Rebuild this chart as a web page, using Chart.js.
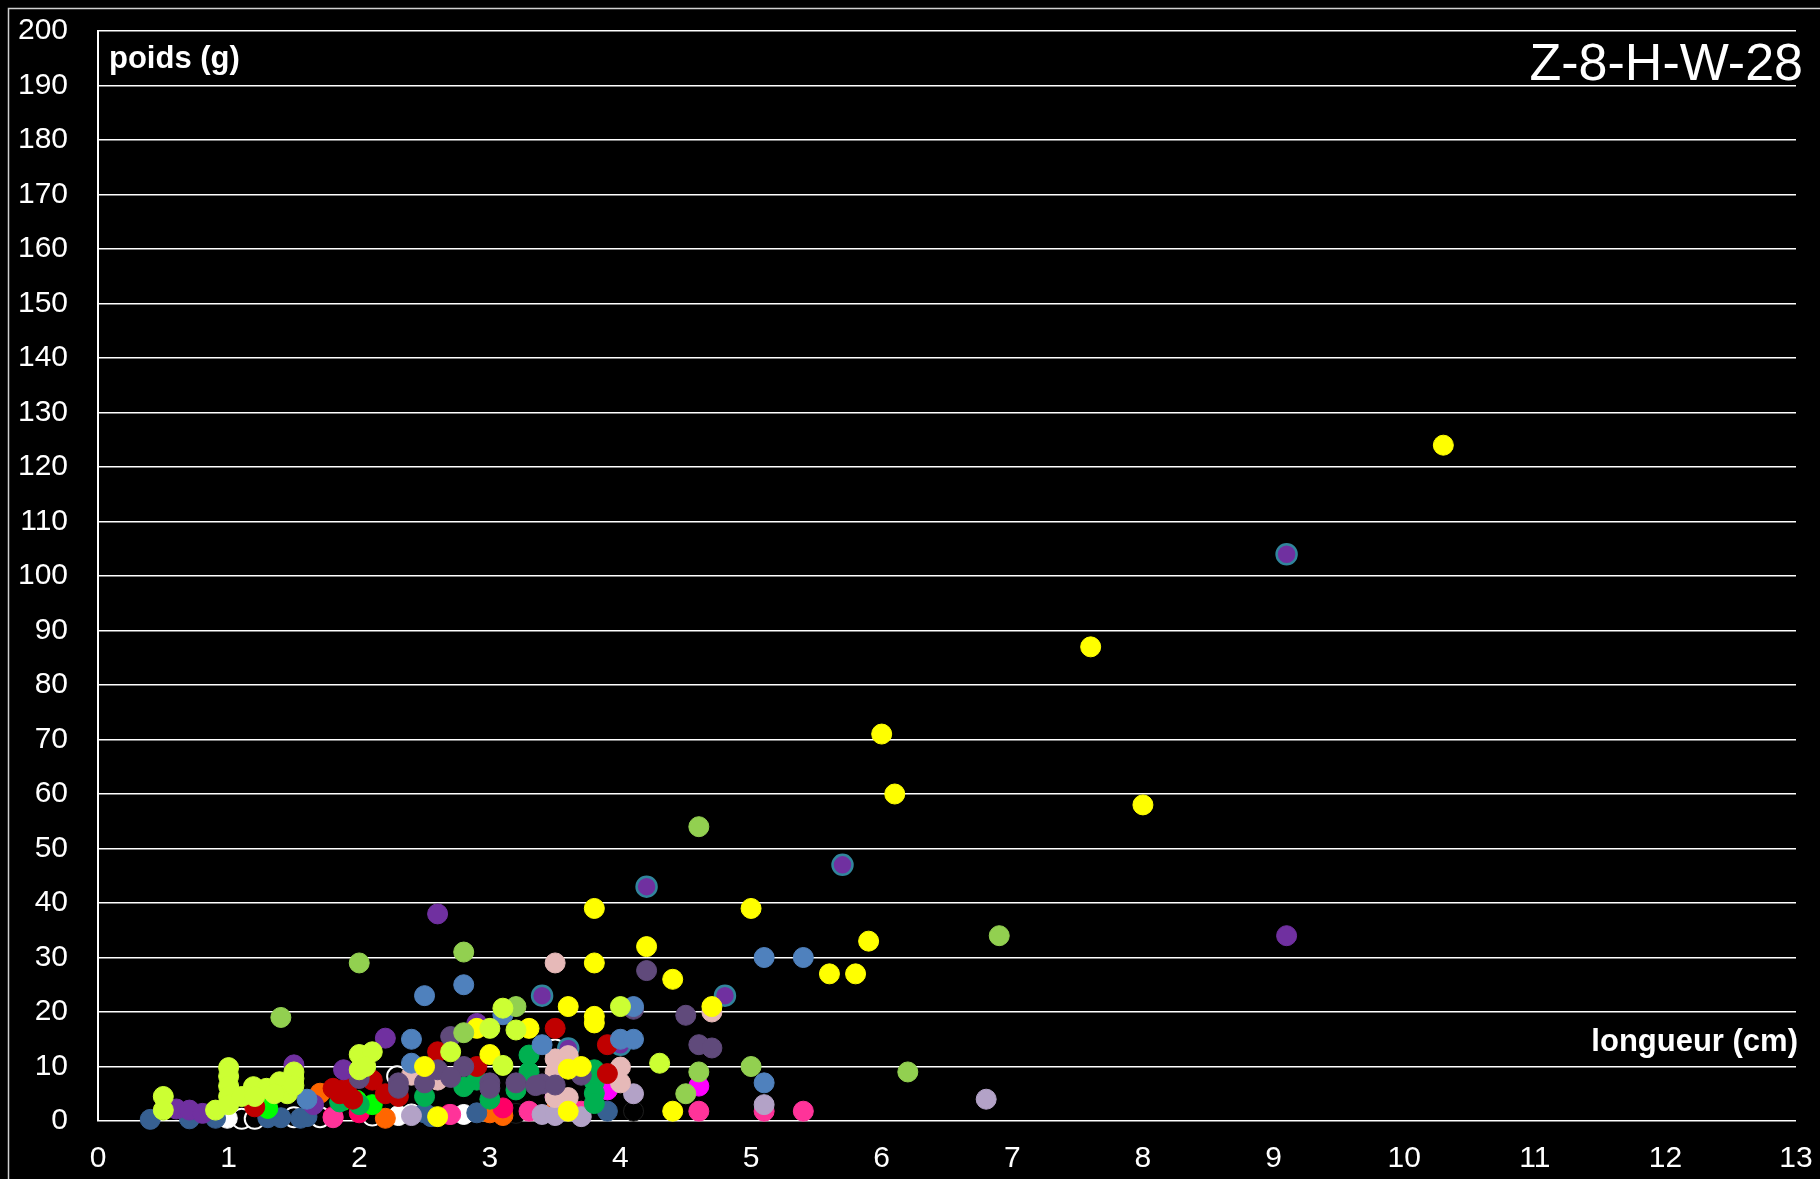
<!DOCTYPE html>
<html>
<head>
<meta charset="utf-8">
<script src="https://cdn.jsdelivr.net/npm/chart.js@4/dist/chart.umd.min.js"></script>
<style>
  html, body { margin: 0; padding: 0; background: #000; }
  #wrap { position: relative; width: 1820px; height: 1179px; background: #000; }
</style>
</head>
<body>
<div id="wrap"><canvas id="c" width="1820" height="1179"></canvas></div>
<script>
// ---- chart texts ----
const chartTitle = "Z-8-H-W-28";
const yAxisTitle = "poids (g)";
const xAxisTitle = "longueur (cm)";

// ---- axis ranges ----
const xMin = 0, xMax = 13, xStep = 1;
const yMin = 0, yMax = 200, yStep = 10;

// ---- series data (longueur cm, poids g) ----
const yellowX = [10.3, 7.6, 6.0, 6.1, 8.0, 3.8, 5.0, 5.9, 4.2, 3.8, 5.6, 5.8, 4.4, 3.6, 4.7, 3.8, 3.8, 2.9, 3.3, 3.0, 2.5, 3.7, 3.6, 4.4, 3.6, 2.6];
const yellowY = [124, 87, 71, 60, 58, 39, 39, 33, 32, 29, 27, 27, 26, 21, 21, 19.2, 18, 17, 17, 12.2, 10, 10, 9.5, 1.8, 1.8, 0.8];

const chartreuseX = [0.5, 0.5, 0.9, 1.0, 1.0, 1.0, 1.0, 1.0, 1.1, 1.19, 1.29, 1.39, 1.5, 1.5, 1.45, 1.2, 1.35, 2.0, 2.1, 2.0, 2.05, 2.7, 3.0, 3.1, 3.2, 3.1, 4.0, 4.3, 1.5];
const chartreuseY = [4.5, 2.0, 2.0, 9.8, 8.2, 6.4, 4.5, 3.0, 4.5, 6.3, 6.0, 7.2, 7.8, 9.0, 5.0, 4.5, 5.0, 12.2, 12.7, 9.4, 10, 12.7, 17, 20.7, 16.7, 10.2, 21, 10.6, 6.5];

const lightGreenX = [4.6, 6.9, 2.8, 2.0, 1.4, 3.2, 2.8, 4.6, 5.0, 6.2, 4.5];
const lightGreenY = [54, 34, 31, 29, 19, 21, 16.2, 9, 10, 9, 5];

const steelBlueX = [5.1, 5.4, 2.8, 2.5, 2.4, 4.0, 4.1, 4.1, 3.1, 5.1, 2.4, 3.4, 1.6];
const steelBlueY = [30, 30, 25, 23, 15, 15, 15, 21, 19.5, 7, 10.6, 14, 4];

const purpleX = [2.6, 9.1, 2.2, 2.9, 1.5, 1.88, 0.6, 0.7, 0.8, 1.65];
const purpleY = [38, 34, 15.2, 17.9, 10.3, 9.4, 2.2, 2.0, 1.4, 3];

const purpleTealX = [9.1, 5.7, 4.2, 3.4, 4.8, 4.0, 3.6];
const purpleTealY = [104, 47, 43, 23, 23, 14, 13.3];

const darkPurpleX = [4.2, 4.5, 4.1, 2.7, 4.6, 4.7, 2.0, 2.3, 2.3, 2.6, 2.8, 2.5, 3.0, 3.0, 3.4, 3.5, 3.7, 2.7, 3.2, 3.35];
const darkPurpleY = [27.6, 19.4, 20.5, 15.5, 14, 13.4, 7.8, 7, 6, 9.4, 10, 7, 7, 6, 6.8, 6.6, 8.4, 8, 7, 6.5];

const redX = [3.5, 3.9, 2.6, 2.1, 2.9, 3.9, 1.8, 1.9, 1.85, 1.2, 2.3, 1.95, 2.2];
const redY = [17, 14, 12.7, 7.5, 10, 8.7, 6, 6, 5, 2.6, 4.5, 4, 5];

const pinkX = [3.5, 4.7, 3.5, 3.6, 3.5, 4.0, 4.0, 3.6, 3.5, 2.4, 2.6];
const pinkY = [29, 20, 11.4, 12, 9, 9.9, 7, 4.3, 4.3, 8.4, 7.5];

const greenX = [3.3, 3.3, 3.2, 3.8, 3.8, 3.8, 3.8, 2.9, 2.8, 2.5, 2.0, 1.85, 3.0];
const greenY = [12.1, 9, 5.7, 9.4, 7.2, 5.1, 3.2, 7.5, 6.3, 4.5, 3, 3.5, 4];

const brightGreenX = [1.3, 1.88, 1.98, 2.1];
const brightGreenY = [2.3, 3.8, 3.8, 3];

const lavenderX = [6.8, 4.1, 5.1, 3.4, 3.5, 2.4, 3.7];
const lavenderY = [4, 5, 3, 1.2, 1, 1, 0.8];

const magentaX = [4.6, 3.9, 3.5];
const magentaY = [6.4, 5.7, 4.5];

const darkBlueX = [0.4, 0.7, 0.9, 1.3, 1.4, 1.55, 2.5, 2.9, 3.9, 1.6, 2.55];
const darkBlueY = [0.3, 0.4, 0.5, 0.6, 0.6, 0.5, 1.5, 1.5, 1.8, 0.8, 0.8];

const hotPinkX = [4.6, 5.1, 5.4, 3.3, 3.7, 1.8, 2.7];
const hotPinkY = [1.8, 1.8, 1.8, 1.8, 1.8, 0.6, 1.2];

const deepPinkX = [1.8, 2.0, 2.69, 3.1];
const deepPinkY = [0.8, 1.5, 1.2, 2.4];

const orangeX = [1.7, 3.0, 3.5, 3.1, 2.2];
const orangeY = [5.1, 1.5, 1.9, 1.0, 0.5];

const whiteX = [0.99, 2.3, 2.4, 2.8];
const whiteY = [0.5, 1.0, 1.3, 1.2];

const blackRingX = [1.1, 1.2, 1.5, 1.7, 2.1, 2.29, 3.5];
const blackRingY = [0.4, 0.4, 0.7, 0.7, 1.0, 8.2, 13.1];

const blackX = [3.2, 4.1];
const blackY = [1.4, 1.8];

// ---- build datasets ----
function pts(xs, ys) { return xs.map((x, i) => ({ x: x, y: ys[i] })); }
function ds(name, xs, ys, fill, border, bw) {
  return {
    label: name,
    data: pts(xs, ys),
    backgroundColor: fill,
    borderColor: border,
    borderWidth: bw,
    pointRadius: 10,
    pointHoverRadius: 10,
    showLine: false,
    clip: false
  };
}

const datasets = [
  ds("chartreuse", chartreuseX, chartreuseY, "#CCFF33", "#CCFF33", 1),
  ds("lightGreen", lightGreenX, lightGreenY, "#92D050", "#92D050", 1),
  ds("yellow", yellowX, yellowY, "#FFFF00", "#FFFF00", 1),
  ds("steelBlue", steelBlueX, steelBlueY, "#4F81BD", "#4F81BD", 1),
  ds("purple", purpleX, purpleY, "#7030A0", "#7030A0", 1),
  ds("darkPurple", darkPurpleX, darkPurpleY, "#604A7B", "#604A7B", 1),
  ds("red", redX, redY, "#C00000", "#C00000", 1),
  ds("pink", pinkX, pinkY, "#E6B9B8", "#E6B9B8", 1),
  ds("green", greenX, greenY, "#00B050", "#00B050", 1),
  ds("purpleTeal", purpleTealX, purpleTealY, "#7030A0", "#31859C", 2.5),
  ds("brightGreen", brightGreenX, brightGreenY, "#00FF00", "#00FF00", 1),
  ds("lavender", lavenderX, lavenderY, "#B3A2C7", "#B3A2C7", 1),
  ds("magenta", magentaX, magentaY, "#FF00FF", "#FF00FF", 1),
  ds("darkBlue", darkBlueX, darkBlueY, "#376092", "#376092", 1),
  ds("hotPink", hotPinkX, hotPinkY, "#FF3399", "#FF3399", 1),
  ds("deepPink", deepPinkX, deepPinkY, "#FF0066", "#FF0066", 1),
  ds("orange", orangeX, orangeY, "#FF6600", "#FF6600", 1),
  ds("white", whiteX, whiteY, "#FFFFFF", "#FFFFFF", 1),
  ds("blackRing", blackRingX, blackRingY, "#000000", "#FFFFFF", 2),
  ds("black", blackX, blackY, "#000000", "#1E1E1E", 1)
];

const FONT = "'Liberation Sans', Arial, sans-serif";

const decor = {
  id: "decor",
  beforeDraw(chart) {
    const c = chart.ctx;
    c.save();
    c.fillStyle = "#000";
    c.fillRect(0, 0, chart.width, chart.height);
    c.strokeStyle = "#d0d0d0";
    c.lineWidth = 1.5;
    c.strokeRect(8.5, 8.5, 1900, 1300);
    c.restore();
  },
  afterDraw(chart) {
    const c = chart.ctx;
    const a = chart.chartArea;
    c.save();
    c.fillStyle = "#FFFFFF";
    c.textBaseline = "alphabetic";
    c.font = "bold 31px " + FONT;
    c.textAlign = "left";
    c.fillText(yAxisTitle, a.left + 11, 68);
    c.textAlign = "right";
    c.fillText(xAxisTitle, 1798, 1051);
    c.font = "52px " + FONT;
    c.fillText(chartTitle, 1803, 80);
    c.restore();
  }
};

new Chart(document.getElementById("c"), {
  type: "scatter",
  data: { datasets: datasets },
  options: {
    responsive: false,
    animation: false,
    events: [],
    layout: { padding: { top: 31, right: 24, left: 0, bottom: 0 } },
    plugins: { legend: { display: false }, tooltip: { enabled: false } },
    scales: {
      x: {
        type: "linear",
        min: xMin, max: xMax,
        afterFit(s) { s.height = 58; s.paddingLeft = 0; s.paddingRight = 0; },
        grid: { display: false, drawTicks: false },
        border: { display: false },
        ticks: { stepSize: xStep, color: "#FFFFFF", padding: 20, font: { family: FONT, size: 30 }, maxRotation: 0 }
      },
      y: {
        type: "linear",
        min: yMin, max: yMax,
        afterFit(s) { s.width = 98; s.paddingTop = 0; s.paddingBottom = 0; },
        grid: { color: "#FFFFFF", lineWidth: 1.5, drawTicks: false },
        border: { display: true, color: "#FFFFFF", width: 2 },
        ticks: { stepSize: yStep, color: "#FFFFFF", padding: 30, font: { family: FONT, size: 30 } }
      }
    }
  },
  plugins: [decor]
});
</script>
</body>
</html>
